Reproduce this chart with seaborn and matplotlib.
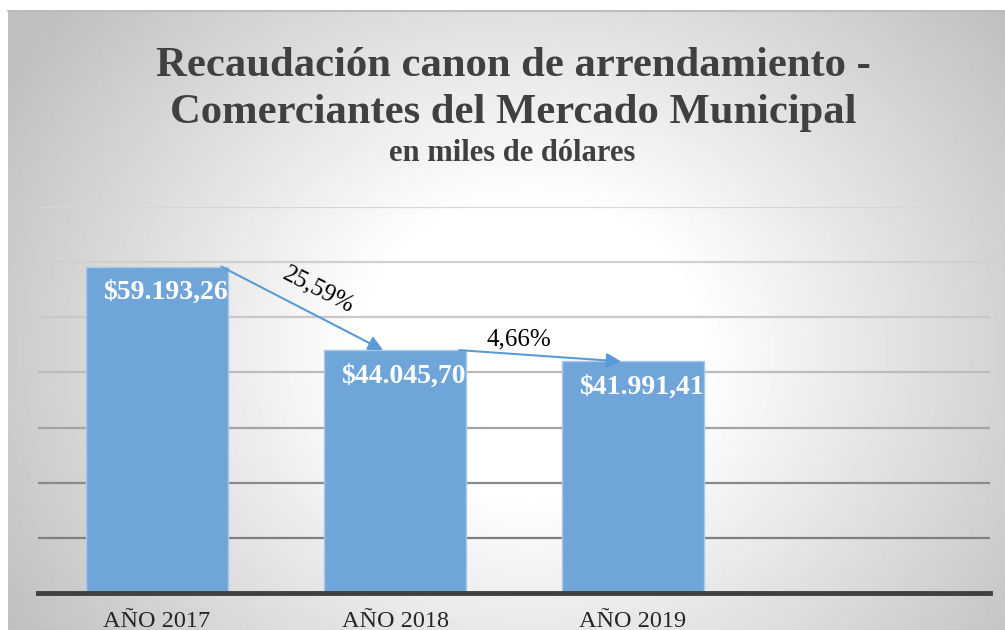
import numpy as np
import matplotlib.pyplot as plt
from matplotlib.lines import Line2D
import seaborn as sns

# datos del grafico
anios = ['AÑO 2017', 'AÑO 2018', 'AÑO 2019']
recaudacion = [59193.26, 44045.70, 41991.41]
variacion = ['25,59%', '4,66%']

titulo_1 = 'Recaudación canon de arrendamiento -'
titulo_2 = 'Comerciantes del Mercado Municipal'
subtitulo = 'en miles de dólares'

sns.set_style('white')
plt.rcParams['font.family'] = ['Liberation Serif', 'DejaVu Serif']


def formato(v):
    s = f'{v:,.2f}'.replace(',', 'X').replace('.', ',').replace('X', '.')
    return '$' + s


fig = plt.figure(figsize=(10.05, 6.3), dpi=100)

# fondo con degradado radial
bg = fig.add_axes([8 / 1005, 0, 997 / 1005, 619 / 630])
h, w = 619, 997
yy, xx = np.mgrid[0:h, 0:w]
r = np.sqrt(((xx - 522) / 480) ** 2 + ((yy - 339) / 420) ** 2)
gris = 255 - 45 * np.clip((r - 0.35) / 0.65, 0, 1.4)
bg.imshow(gris, cmap='gray', vmin=0, vmax=255, aspect='auto', interpolation='bilinear')
bg.set_axis_off()
fig.add_artist(Line2D([8 / 1005, 1], [619 / 630, 619 / 630], color='#bdbdbd', lw=1.5))

# titulos
fig.text(0.511, 1 - 76 / 630, titulo_1, ha='center', va='baseline', fontsize=30.7,
         fontweight='bold', color='#404040')
fig.text(0.511, 1 - 123 / 630, titulo_2, ha='center', va='baseline', fontsize=30.7,
         fontweight='bold', color='#404040')
fig.text(0.51, 1 - 161 / 630, subtitulo, ha='center', va='baseline', fontsize=22,
         fontweight='bold', color='#404040')

# grafico de barras
ax = fig.add_axes([38 / 1005, 37 / 630, 952 / 1005, 386 / 630])
ax.patch.set_alpha(0)

colores_grid = ['#7f7f7f', '#8a8a8a', '#a3a3a3', '#bcbcbc', '#c8c8c8', '#d0d0d0', '#d6d6d6']
for k, c in enumerate(colores_grid):
    ax.axhline((k + 1) * 10000, color=c, lw=1.6, zorder=1)

sns.barplot(x=anios, y=recaudacion, color='#6fa5d8', width=0.6, saturation=1,
            edgecolor='#a9c9ea', linewidth=1, ax=ax, zorder=3)
ax.set_xlim(-0.5, 3.5)
ax.set_ylim(0, 70000)

for i, v in enumerate(recaudacion):
    ax.annotate(formato(v), (i, v), xytext=(8, -26), textcoords='offset pixels',
                ha='center', va='center', color='white', fontweight='bold',
                fontsize=20, zorder=5)

# flechas de variacion
desfase = [(16, 18), (-21, 16)]
giro = [-27, 0]
for i, txt in enumerate(variacion):
    x0, y0 = i + 0.27, recaudacion[i]
    x1, y1 = i + 0.95, recaudacion[i + 1]
    ax.annotate('', xy=(x1, y1), xytext=(x0, y0),
                arrowprops=dict(arrowstyle='-|>', color='#5b9bd5', lw=1.5,
                                mutation_scale=22, shrinkA=0, shrinkB=0), zorder=6)
    ax.annotate(txt, ((x0 + x1) / 2, (y0 + y1) / 2), xytext=desfase[i],
                textcoords='offset pixels', ha='center', va='center',
                rotation=giro[i], rotation_mode='anchor', fontsize=18, color='black',
                zorder=6)

for s in ['top', 'right', 'left']:
    ax.spines[s].set_visible(False)
ax.spines['bottom'].set_color('#404040')
ax.spines['bottom'].set_linewidth(3.5)
ax.spines['bottom'].set_zorder(4)
ax.set_yticks([])
ax.set_xlabel('')
ax.set_ylabel('')
ax.tick_params(axis='x', length=0, pad=13, labelsize=17.5, colors='#262626')

plt.savefig('out.png', dpi=100)
